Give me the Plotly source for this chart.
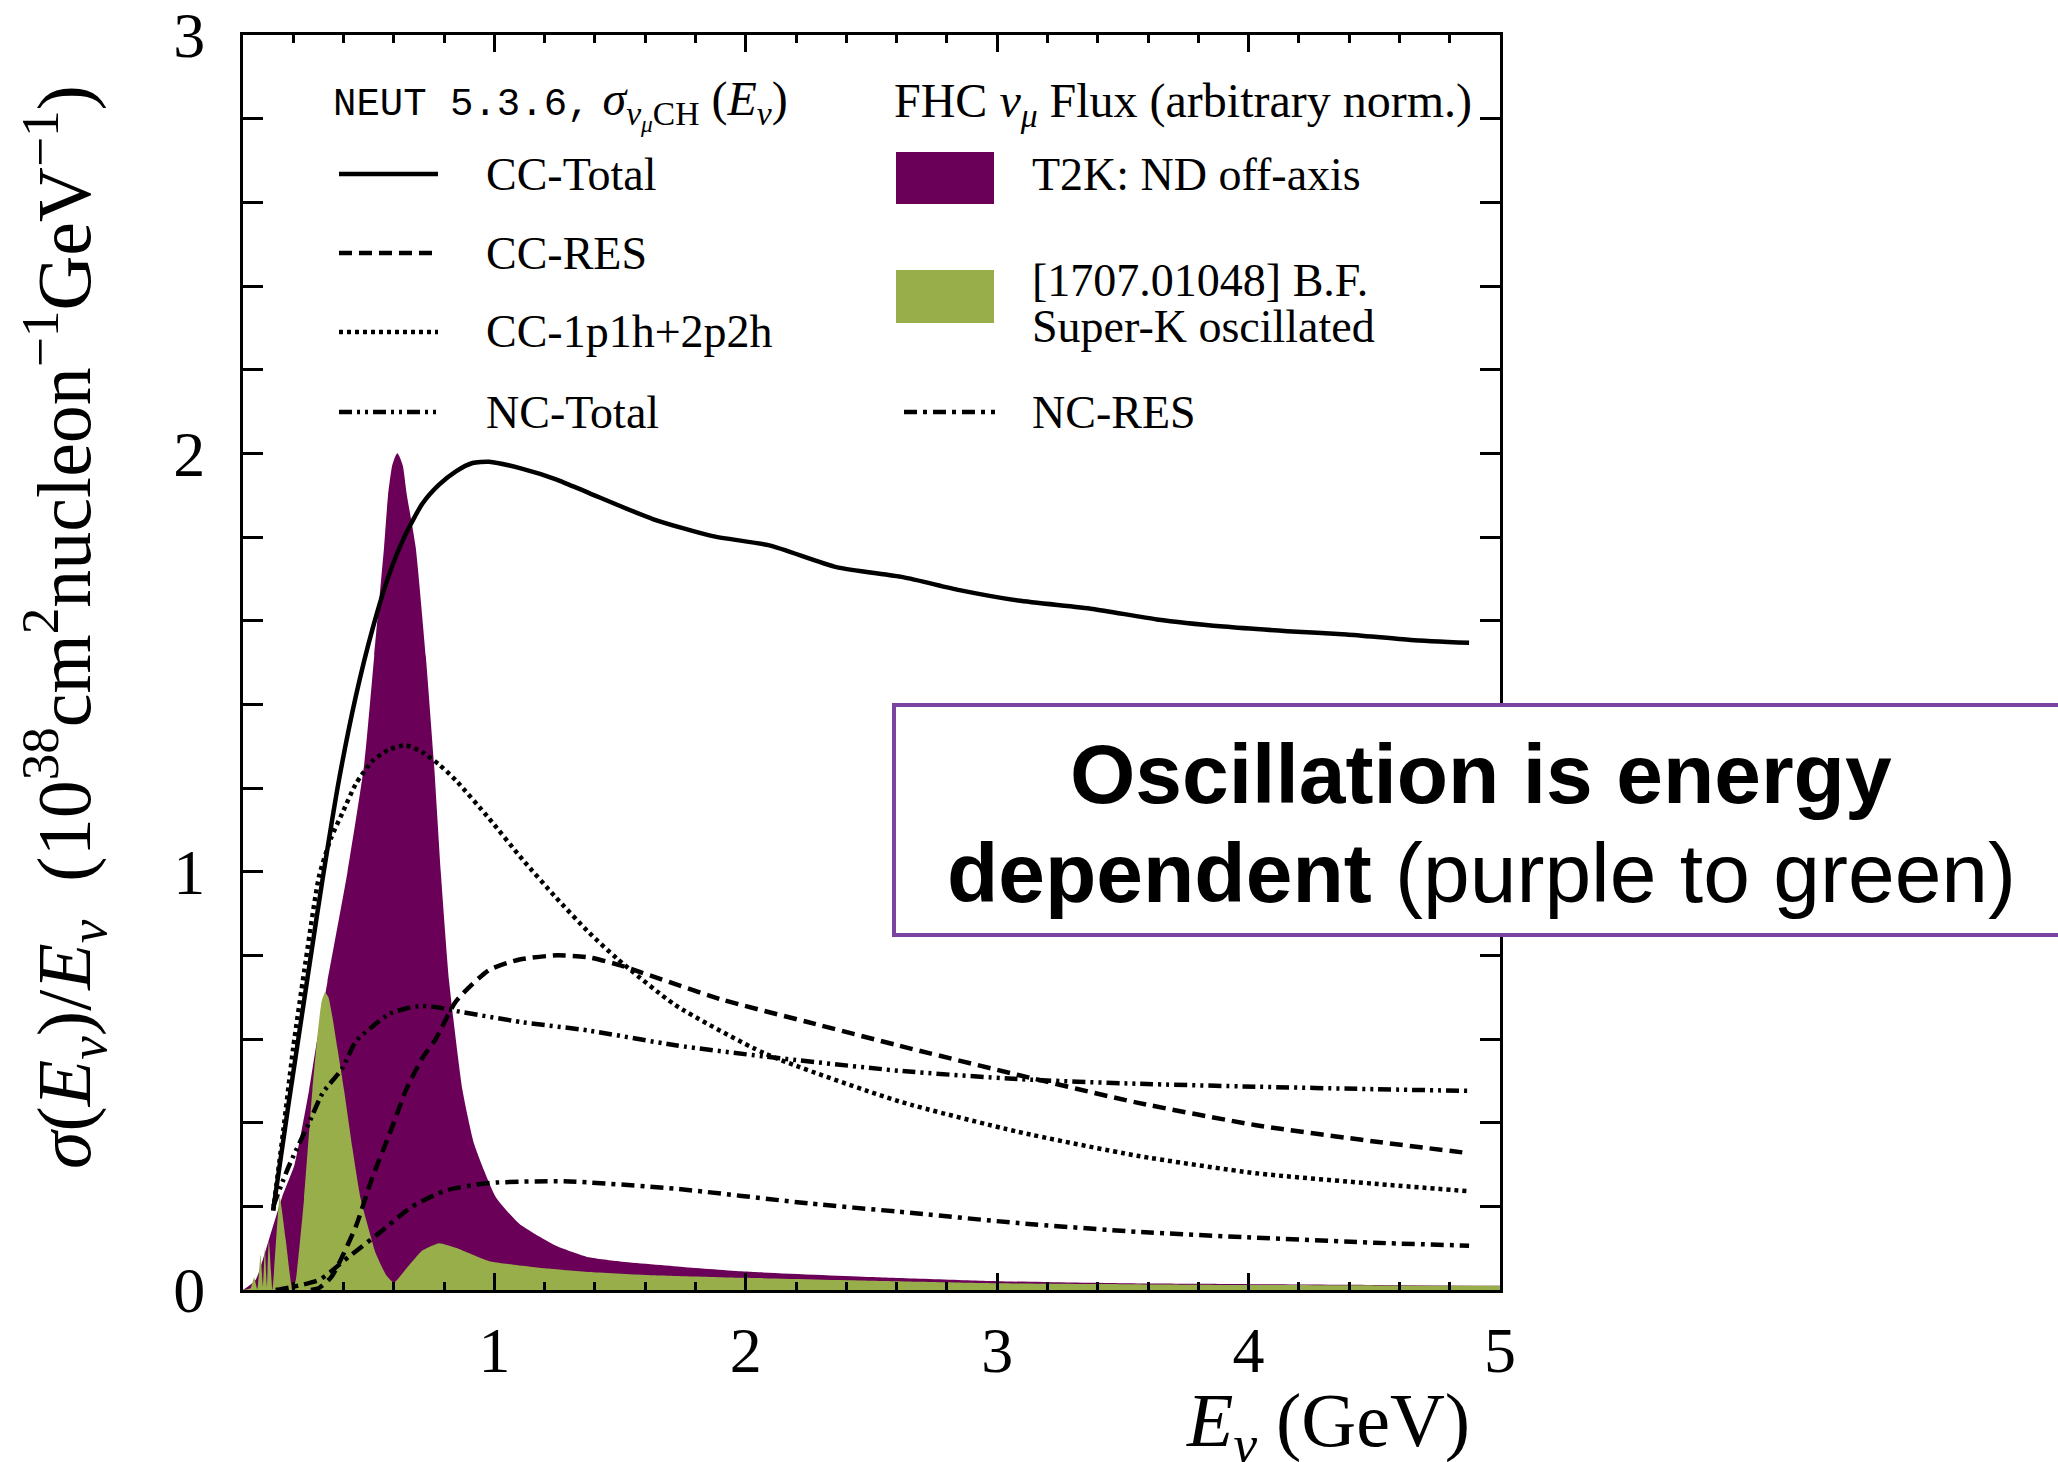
import plotly.graph_objects as go

# ---------------- data ----------------
E_cc_total = [0.12, 0.18, 0.22, 0.26, 0.316, 0.382, 0.449, 0.515, 0.581, 0.648, 0.714, 0.78, 0.847,
              0.913, 0.979, 1.112, 1.245, 1.377, 1.63, 1.868, 2.094, 2.36, 2.625, 2.85, 3.084, 3.38,
              3.635, 3.90, 4.154, 4.39, 4.645, 4.877]
cc_total = [0.19, 0.44, 0.60, 0.76, 0.98, 1.22, 1.42, 1.58, 1.71, 1.808, 1.88, 1.925, 1.957,
            1.977, 1.98, 1.963, 1.938, 1.905, 1.843, 1.802, 1.78, 1.728, 1.704, 1.673, 1.648, 1.628,
            1.603, 1.586, 1.575, 1.567, 1.554, 1.547]

E_cc_qe = [0.12, 0.16, 0.2, 0.243, 0.303, 0.35, 0.395, 0.449, 0.515, 0.581, 0.648, 0.714, 0.78,
           0.847, 0.979, 1.112, 1.245, 1.377, 1.49, 1.72, 2.077, 2.61, 3.084, 3.556, 4.03, 4.5, 4.877]
cc_qe = [0.19, 0.38, 0.58, 0.76, 0.99, 1.08, 1.14, 1.21, 1.265, 1.292, 1.302, 1.285, 1.256,
         1.218, 1.127, 1.029, 0.938, 0.854, 0.791, 0.681, 0.565, 0.451, 0.378, 0.321, 0.279, 0.254, 0.236]

E_cc_res = [0.27, 0.303, 0.35, 0.382, 0.449, 0.515, 0.581, 0.65, 0.714, 0.767, 0.847, 0.979, 1.1,
            1.25, 1.377, 1.49, 1.90, 2.25, 2.61, 3.084, 3.556, 4.03, 4.5, 4.877]
cc_res = [0.0, 0.005, 0.03, 0.064, 0.152, 0.27, 0.37, 0.48, 0.555, 0.6, 0.69, 0.765, 0.79,
          0.80, 0.795, 0.778, 0.695, 0.64, 0.584, 0.514, 0.448, 0.394, 0.355, 0.327]

E_nc_total = [0.12, 0.183, 0.263, 0.316, 0.395, 0.449, 0.515, 0.581, 0.648, 0.714, 0.78, 0.847,
              1.112, 1.377, 1.72, 2.077, 2.61, 3.084, 3.556, 4.03, 4.5, 4.877]
nc_total = [0.2, 0.297, 0.40, 0.47, 0.53, 0.595, 0.63, 0.66, 0.673, 0.679, 0.675, 0.667,
            0.64, 0.62, 0.585, 0.558, 0.524, 0.504, 0.493, 0.486, 0.48, 0.476]

E_nc_res = [0.13, 0.2, 0.303, 0.422, 0.541, 0.674, 0.807, 0.926, 1.01, 1.277, 1.72, 2.25, 2.61,
            3.084, 3.556, 4.03, 4.5, 4.877]
nc_res = [0.0, 0.008, 0.024, 0.08, 0.136, 0.20, 0.238, 0.252, 0.257, 0.26, 0.242, 0.207, 0.187,
          0.16, 0.139, 0.125, 0.113, 0.106]

E_flux_nd = [0.0, 0.05, 0.103, 0.156, 0.205, 0.263, 0.29, 0.336, 0.415, 0.482, 0.522, 0.561, 0.577,
             0.593, 0.606, 0.614, 0.622, 0.636, 0.652, 0.687, 0.727, 0.76, 0.787, 0.82, 0.873, 0.92,
             1.006, 1.10, 1.245, 1.377, 1.5, 1.75, 2.0, 2.5, 3.0, 3.5, 4.0, 4.5, 5.0]
flux_nd = [0.0, 0.024, 0.12, 0.223, 0.30, 0.478, 0.58, 0.737, 0.997, 1.256, 1.516, 1.775, 1.90,
           1.97, 1.993, 2.0, 1.993, 1.97, 1.90, 1.775, 1.516, 1.256, 0.997, 0.737, 0.478, 0.348,
           0.222, 0.158, 0.106, 0.078, 0.068, 0.055, 0.044, 0.031, 0.021, 0.016, 0.014, 0.012, 0.01]

E_flux_sk = [0.0, 0.03, 0.044, 0.057, 0.07, 0.079, 0.087, 0.095, 0.103, 0.117, 0.146, 0.17, 0.196,
             0.21, 0.243, 0.276, 0.30, 0.313, 0.326, 0.34, 0.355, 0.375, 0.402, 0.435, 0.468, 0.528,
             0.57, 0.60, 0.648, 0.714, 0.78, 0.847, 0.98, 1.2, 1.377, 1.6, 2.0, 2.5, 3.0, 3.5, 4.0,
             4.5, 5.0]
flux_sk = [0.0, 0.004, 0.03, 0.002, 0.085, 0.008, 0.10, 0.008, 0.12, 0.0, 0.223, 0.12, 0.0,
           0.024, 0.218, 0.478, 0.63, 0.69, 0.711, 0.70, 0.655, 0.58, 0.478, 0.34, 0.218, 0.088,
           0.035, 0.017, 0.05, 0.095, 0.112, 0.101, 0.069, 0.052, 0.043, 0.036, 0.029, 0.022,
           0.016, 0.014, 0.012, 0.011, 0.01]

x_tick_vals = [1, 2, 3, 4, 5]
x_tick_text = ["1", "2", "3", "4", "5"]
y_tick_vals = [0, 1, 2, 3]
y_tick_text = ["0", "1", "2", "3"]

PURPLE = "#6A0058"
GREEN = "#97AE4B"
BOXC = "#7B42A0"

# ---------------- geometry helpers (layout only) ----------------
W, H = 2058, 1462
L, R, T, B = 243, 1500, 35, 1290
PW, PH = R - L, B - T


def px(x):
    return (x - L) / PW


def py(y):
    return (B - y) / PH


SERIF = "Liberation Serif"
SANS = "Liberation Sans"

fig = go.Figure()

fig.add_trace(go.Scatter(x=E_flux_nd, y=flux_nd, mode="lines", fill="tozeroy",
                         fillcolor=PURPLE,
                         line=dict(width=0, color=PURPLE, shape="spline", smoothing=0.5),
                         showlegend=False))
fig.add_trace(go.Scatter(x=E_flux_sk, y=flux_sk, mode="lines", fill="tozeroy",
                         fillcolor=GREEN,
                         line=dict(width=0, color=GREEN, shape="spline", smoothing=0.4),
                         showlegend=False))

DASH_RES = "13px,7px"
DASH_QE = "4px,4px"
DASH_NCT = "13px,5px,3px,5px,3px,5px"
DASH_NCRES = "13px,6px,4px,6px"

line_specs = [
    (E_cc_total, cc_total, "solid"),
    (E_cc_res, cc_res, DASH_RES),
    (E_cc_qe, cc_qe, DASH_QE),
    (E_nc_total, nc_total, DASH_NCT),
    (E_nc_res, nc_res, DASH_NCRES),
]
for xs, ys, dash in line_specs:
    fig.add_trace(go.Scatter(x=xs, y=ys, mode="lines", showlegend=False,
                             line=dict(color="black", width=4.5, dash=dash,
                                       shape="spline", smoothing=0.6)))

shapes = []
annotations = []
LEG_FS = 46

# legend lines
legend_rows_left = [(174, "solid", "CC-Total"), (253, DASH_RES, "CC-RES"),
                    (332, DASH_QE, "CC-1p1h+2p2h"), (412, DASH_NCT, "NC-Total")]
for yy, dash, label in legend_rows_left:
    shapes.append(dict(type="line", xref="paper", yref="paper", x0=px(339), x1=px(438),
                       y0=py(yy), y1=py(yy), line=dict(color="black", width=4.5, dash=dash)))
    annotations.append(dict(text=label, xref="paper", yref="paper", x=px(484), y=py(yy),
                            xanchor="left", yanchor="middle", showarrow=False,
                            font=dict(family=SERIF, size=LEG_FS, color="black")))

shapes.append(dict(type="line", xref="paper", yref="paper", x0=px(904), x1=px(995),
                   y0=py(412), y1=py(412),
                   line=dict(color="black", width=4.5, dash=DASH_NCRES)))
annotations.append(dict(text="NC-RES", xref="paper", yref="paper", x=px(1030), y=py(412),
                        xanchor="left", yanchor="middle", showarrow=False,
                        font=dict(family=SERIF, size=LEG_FS, color="black")))

shapes.append(dict(type="rect", xref="paper", yref="paper", x0=px(896), x1=px(994),
                   y0=py(204), y1=py(152), fillcolor=PURPLE, line=dict(width=0)))
shapes.append(dict(type="rect", xref="paper", yref="paper", x0=px(896), x1=px(994),
                   y0=py(323), y1=py(270), fillcolor=GREEN, line=dict(width=0)))
annotations.append(dict(text="T2K: ND off-axis", xref="paper", yref="paper", x=px(1030),
                        y=py(174), xanchor="left", yanchor="middle", showarrow=False,
                        font=dict(family=SERIF, size=LEG_FS, color="black")))
annotations.append(dict(text="[1707.01048] B.F.", xref="paper", yref="paper", x=px(1030),
                        y=py(280), xanchor="left", yanchor="middle", showarrow=False,
                        font=dict(family=SERIF, size=LEG_FS, color="black")))
annotations.append(dict(text="Super-K oscillated", xref="paper", yref="paper", x=px(1030),
                        y=py(326), xanchor="left", yanchor="middle", showarrow=False,
                        font=dict(family=SERIF, size=LEG_FS, color="black")))

# legend headers
annotations.append(dict(
    text="<span style=\"font-family:'Liberation Mono';font-size:39px\">NEUT 5.3.6,</span> "
         "<i>σ</i><sub><i>ν</i><sub><i>μ</i></sub>CH</sub> (<i>E</i><sub><i>ν</i></sub>)",
    xref="paper", yref="paper", x=px(331), y=py(104), xanchor="left", yanchor="middle",
    showarrow=False, font=dict(family=SERIF, size=48, color="black")))
annotations.append(dict(
    text="FHC <i>ν</i><sub><i>μ</i></sub> Flux (arbitrary norm.)",
    xref="paper", yref="paper", x=px(892), y=py(104), xanchor="left", yanchor="middle",
    showarrow=False, font=dict(family=SERIF, size=48, color="black")))

# axis titles
annotations.append(dict(
    text="<i>σ</i>(<i>E</i><sub><i>ν</i></sub>)/<i>E</i><sub><i>ν</i></sub>  "
         "(10<sup>38</sup>cm<sup>2</sup>nucleon<sup>−1</sup>GeV<sup>−1</sup>)",
    xref="paper", yref="paper", x=px(64), y=py(627), xanchor="center", yanchor="middle",
    textangle=-90, showarrow=False, font=dict(family=SERIF, size=76, color="black")))
annotations.append(dict(
    text="<i>E</i><sub><i>ν</i></sub> (GeV)",
    xref="paper", yref="paper", x=px(1472), y=py(1426), xanchor="right", yanchor="middle",
    showarrow=False, font=dict(family=SERIF, size=76, color="black")))

# callout box
shapes.append(dict(type="rect", xref="paper", yref="paper", x0=px(894), x1=px(2075),
                   y0=py(935), y1=py(705), fillcolor="white", layer="above",
                   line=dict(color=BOXC, width=4)))
annotations.append(dict(text="<b>Oscillation is energy</b>", xref="paper", yref="paper",
                        x=px(1481), y=py(774), xanchor="center", yanchor="middle",
                        showarrow=False, font=dict(family=SANS, size=84, color="black")))
annotations.append(dict(text="<b>dependent</b> (purple to green)", xref="paper", yref="paper",
                        x=px(1481), y=py(873), xanchor="center", yanchor="middle",
                        showarrow=False, font=dict(family=SANS, size=84, color="black")))

fig.update_layout(
    width=W, height=H,
    margin=dict(l=L, r=W - R, t=T, b=H - B, pad=0, autoexpand=False),
    paper_bgcolor="white", plot_bgcolor="white",
    shapes=shapes, annotations=annotations,
    showlegend=False,
    font=dict(family=SERIF, color="black"),
)
fig.update_xaxes(range=[0, 5], tickmode="array", tickvals=x_tick_vals, ticktext=x_tick_text,
                 automargin=False,
                 ticks="inside", ticklen=17, tickwidth=2.5, tickcolor="black",
                 showline=True, linewidth=3, linecolor="black", mirror="allticks",
                 showgrid=False, zeroline=False, ticklabelstandoff=2,
                 tickfont=dict(family=SERIF, size=64, color="black"),
                 minor=dict(ticks="inside", ticklen=8, tickwidth=2.5, tickcolor="black",
                            dtick=0.2, tick0=0, showgrid=False))
fig.update_yaxes(range=[0, 3], tickmode="array", tickvals=y_tick_vals, ticktext=y_tick_text,
                 automargin=False,
                 ticks="inside", ticklen=20, tickwidth=2.5, tickcolor="black",
                 showline=True, linewidth=3, linecolor="black", mirror="allticks",
                 showgrid=False, zeroline=False, ticklabelstandoff=22,
                 tickfont=dict(family=SERIF, size=64, color="black"),
                 minor=dict(ticks="inside", ticklen=20, tickwidth=2.5, tickcolor="black",
                            dtick=0.2, tick0=0, showgrid=False))

fig.write_html("out.html")
